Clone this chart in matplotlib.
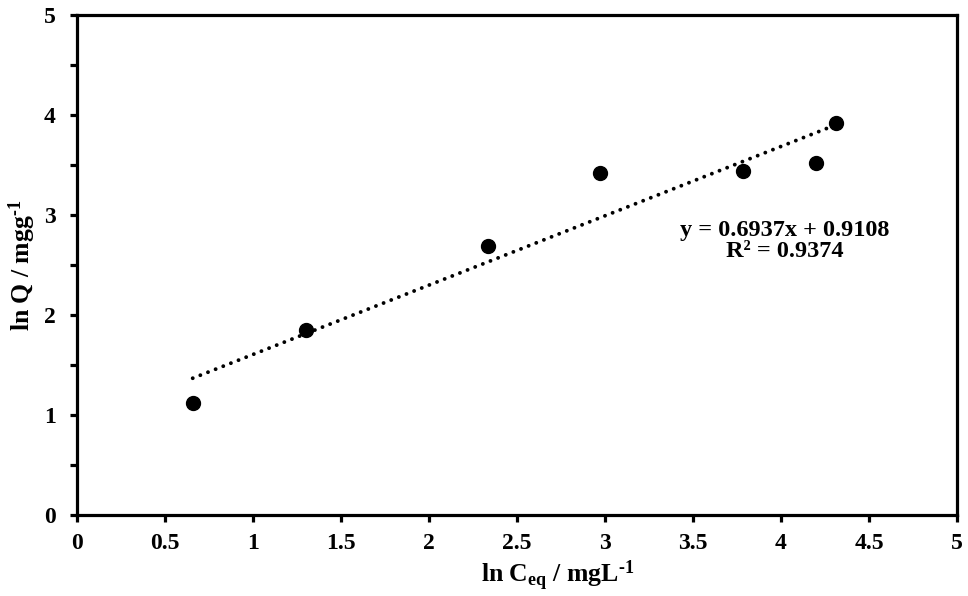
import numpy as np
import matplotlib
matplotlib.use("Agg")
import matplotlib.pyplot as plt

# ln Ceq vs ln Q
ln_ceq = [0.659, 1.301, 2.335, 2.973, 3.784, 4.199, 4.313]
ln_q = [1.117, 1.850, 2.690, 3.423, 3.440, 3.517, 3.923]

# linear trend as printed on the chart
slope = 0.6937
intercept = 0.9108
r2 = 0.9374

x_ticks = [0, 0.5, 1, 1.5, 2, 2.5, 3, 3.5, 4, 4.5, 5]
y_ticks = [0, 1, 2, 3, 4, 5]

plt.rcParams['font.family'] = 'Liberation Serif'
plt.rcParams['font.weight'] = 'bold'
plt.rcParams['mathtext.fontset'] = 'custom'
plt.rcParams['mathtext.rm'] = 'Liberation Serif:bold'
plt.rcParams['mathtext.it'] = 'Liberation Serif:bold'
plt.rcParams['mathtext.bf'] = 'Liberation Serif:bold'

fig = plt.figure(figsize=(9.68, 5.96), dpi=100)
ax = fig.add_axes([0.0792, 0.1359, 0.9095, 0.8389])

# trend line over the data range
xs = np.array([min(ln_ceq), max(ln_ceq)])
ax.plot(xs, slope * xs + intercept, color='black', linewidth=2.8,
        linestyle=(0, (0.01, 2.1)), dash_capstyle='round', zorder=2)
ax.plot(ln_ceq, ln_q, 'o', color='black', markersize=10, zorder=3)

ax.text(4.02, 2.74, f"y = {slope}x + {intercept}\nR² = {r2}",
        ha='center', va='center', multialignment='center',
        fontsize=17.5, fontweight='bold', linespacing=1.0)

ax.set_xlim(0, 5)
ax.set_ylim(0, 5)
ax.set_xticks(x_ticks)
ax.set_xticklabels([f"{t:g}" for t in x_ticks])
ax.set_yticks(y_ticks)
ax.set_yticks(np.arange(0.5, 5, 1), minor=True)

for s in ax.spines.values():
    s.set_linewidth(2.3)

ax.tick_params(axis='both', which='major', direction='out', length=5,
               width=2.3, labelsize=17)
ax.tick_params(axis='x', which='major', pad=8)
ax.tick_params(axis='y', which='major', pad=10)
ax.tick_params(axis='y', which='minor', direction='out', length=5, width=2.3)
for lab in ax.get_xticklabels() + ax.get_yticklabels():
    lab.set_fontweight('bold')

ax.set_xlabel(r'ln C$_{\mathrm{eq}}$ / mgL$^{\text{-1}}$', fontsize=18.5,
              fontweight='bold', labelpad=3)
ax.xaxis.label.set_x(0.546)
ax.set_ylabel(r'ln Q / mgg$^{\text{-1}}$', fontsize=18.5,
              fontweight='bold', labelpad=4)

fig.savefig('out.png', dpi=100)
